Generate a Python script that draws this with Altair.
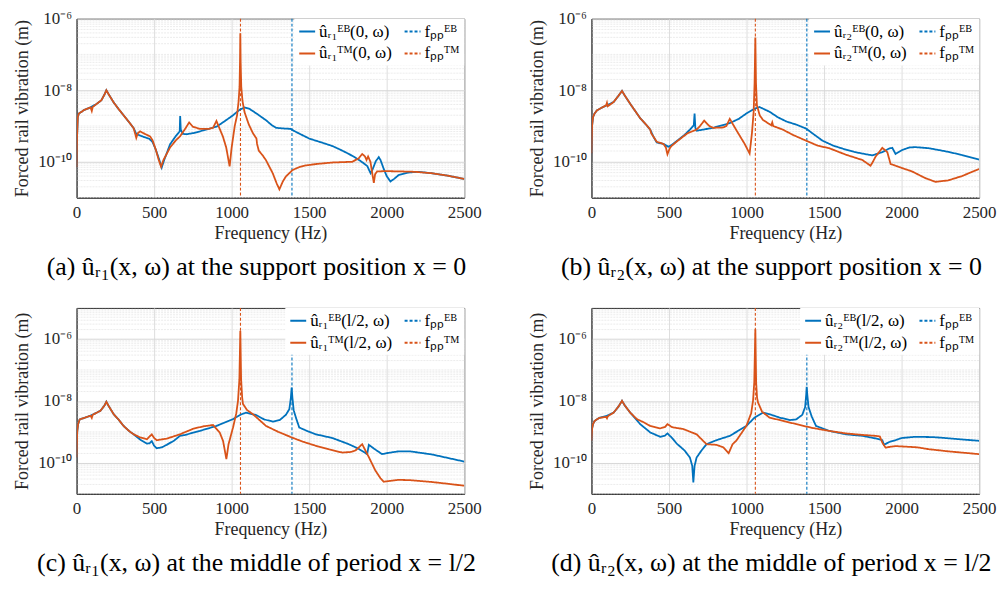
import altair as alt
import pandas as pd

BLUE = "#0072BD"
ORANGE = "#D95319"
FONT = "Liberation Serif"
INK = "#262626"

F_PP_EB = 1389   # Hz, dashed blue line
F_PP_TM = 1057   # Hz, dashed orange line

# Each series: (frequency Hz, log10 of amplitude in m)
A_EB = [(0,-10.15),(3,-9.3),(8,-8.75),(15,-8.65),(50,-8.55),(90,-8.48),(130,-8.38),(160,-8.28),(180,-8.12),(192,-8.0),
        (205,-8.1),(239,-8.34),(270,-8.52),(303,-8.70),(340,-8.9),(368,-9.06),(385,-9.22),(400,-9.25),(430,-9.3),(470,-9.36),
        (490,-9.45),(510,-9.65),(530,-9.9),(549,-10.16),(565,-9.95),(603,-9.51),(640,-9.28),(665,-9.15),(668,-8.72),(672,-9.1),
        (685,-9.22),(709,-9.23),(750,-9.2),(795,-9.15),(850,-9.08),(902,-9.02),(950,-8.88),(1009,-8.70),(1050,-8.55),(1083,-8.48),
        (1115,-8.52),(1170,-8.68),(1222,-8.84),(1260,-8.98),(1286,-9.05),(1340,-9.07),(1380,-9.08),(1395,-9.12),(1440,-9.22),(1500,-9.35),
        (1580,-9.46),(1650,-9.56),(1700,-9.66),(1756,-9.78),(1800,-9.89),(1842,-10.01),(1875,-10.12),(1896,-10.32),(1910,-10.2),(1930,-9.98),
        (1949,-9.87),(1960,-9.95),(1981,-10.2),(2000,-10.4),(2024,-10.55),(2050,-10.47),(2077,-10.37),(2141,-10.30),(2205,-10.28),(2291,-10.32),
        (2397,-10.39),(2500,-10.48)]
A_TM = [(0,-10.15),(3,-9.3),(8,-8.75),(15,-8.65),(50,-8.55),(90,-8.48),(98,-8.58),(104,-8.47),(130,-8.38),(160,-8.28),
        (180,-8.12),(192,-8.0),(205,-8.1),(239,-8.34),(270,-8.52),(303,-8.70),(340,-8.9),(368,-9.06),(385,-9.33),(395,-9.2),
        (410,-9.15),(440,-9.22),(474,-9.29),(490,-9.4),(510,-9.65),(530,-9.95),(545,-10.14),(560,-9.95),(603,-9.6),(640,-9.4),
        (667,-9.29),(700,-9.08),(726,-8.90),(750,-9.02),(795,-9.08),(850,-9.08),(880,-9.05),(902,-8.86),(925,-9.1),(944,-9.3),
        (965,-9.6),(987,-10.13),(1000,-9.6),(1020,-9.0),(1035,-8.7),(1045,-8.3),(1051,-7.9),(1054,-7.2),(1056,-6.41),(1058,-7.2),
        (1062,-7.9),(1070,-8.3),(1083,-8.61),(1110,-8.95),(1137,-9.2),(1160,-9.35),(1164,-9.5),(1175,-9.69),(1200,-9.82),(1222,-9.96),
        (1265,-10.32),(1290,-10.6),(1308,-10.77),(1330,-10.55),(1350,-10.41),(1393,-10.23),(1440,-10.14),(1479,-10.10),(1550,-10.06),(1650,-10.02),
        (1778,-10.0),(1820,-9.9),(1842,-9.78),(1860,-9.85),(1870,-9.95),(1880,-9.85),(1895,-10.0),(1906,-10.3),(1917,-10.59),(1925,-10.35),
        (1938,-10.27),(1991,-10.26),(2100,-10.27),(2184,-10.28),(2291,-10.32),(2397,-10.39),(2500,-10.48)]

B_EB = [(0,-9.77),(4,-9.0),(10,-8.75),(20,-8.65),(36,-8.56),(70,-8.48),(100,-8.42),(143,-8.33),(175,-8.15),(197,-8.02),
        (215,-8.15),(250,-8.38),(314,-8.78),(350,-8.95),(379,-9.10),(400,-9.3),(421,-9.46),(464,-9.50),(496,-9.58),(520,-9.52),
        (550,-9.42),(600,-9.25),(635,-9.10),(660,-8.98),(665,-8.65),(670,-9.05),(678,-9.13),(720,-9.10),(785,-9.05),(892,-8.92),
        (950,-8.8),(999,-8.65),(1050,-8.52),(1084,-8.47),(1148,-8.6),(1200,-8.75),(1255,-8.87),(1320,-8.96),(1384,-9.07),(1430,-9.22),
        (1490,-9.41),(1560,-9.55),(1640,-9.66),(1700,-9.73),(1747,-9.77),(1811,-9.82),(1876,-9.73),(1920,-9.63),(1940,-9.61),(1961,-9.78),
        (2004,-9.67),(2050,-9.6),(2089,-9.59),(2175,-9.62),(2300,-9.72),(2389,-9.81),(2500,-9.94)]
B_TM = [(0,-9.77),(4,-9.0),(10,-8.75),(20,-8.65),(36,-8.56),(70,-8.48),(95,-8.42),(100,-8.35),(105,-8.45),(143,-8.33),
        (175,-8.15),(197,-8.02),(215,-8.15),(250,-8.38),(314,-8.78),(350,-8.95),(379,-9.10),(385,-9.2),(421,-9.44),(464,-9.50),
        (480,-9.6),(490,-9.79),(505,-9.62),(518,-9.55),(560,-9.4),(620,-9.2),(678,-9.10),(700,-9.0),(727,-8.85),(760,-9.0),
        (785,-9.05),(850,-9.04),(870,-9.0),(892,-8.80),(935,-9.12),(988,-9.50),(1020,-9.77),(1035,-9.2),(1046,-8.6),(1052,-7.8),
        (1057,-6.53),(1061,-7.8),(1067,-8.42),(1085,-8.7),(1106,-8.83),(1160,-8.98),(1166,-8.9),(1172,-9.0),(1234,-9.10),(1300,-9.25),
        (1384,-9.41),(1460,-9.55),(1533,-9.62),(1640,-9.8),(1747,-9.95),(1800,-10.11),(1815,-10.0),(1833,-9.85),(1876,-9.61),(1895,-9.68),
        (1908,-9.73),(1929,-10.06),(2000,-10.17),(2068,-10.27),(2150,-10.45),(2218,-10.56),(2300,-10.52),(2389,-10.40),(2500,-10.20)]

C_EB = [(0,-9.83),(4,-9.0),(10,-8.75),(20,-8.6),(50,-8.55),(90,-8.48),(154,-8.32),(180,-8.15),(192,-8.03),(205,-8.15),
        (239,-8.43),(270,-8.6),(303,-8.81),(340,-8.98),(368,-9.08),(410,-9.25),(453,-9.38),(470,-9.37),(485,-9.3),(500,-9.45),
        (517,-9.53),(550,-9.5),(581,-9.42),(630,-9.28),(667,-9.13),(700,-9.1),(795,-8.97),(902,-8.81),(1009,-8.59),(1060,-8.44),
        (1094,-8.38),(1158,-8.46),(1210,-8.6),(1265,-8.67),(1310,-8.62),(1350,-8.45),(1372,-8.27),(1382,-7.9),(1387,-7.57),(1392,-7.9),
        (1400,-8.3),(1415,-8.55),(1436,-8.86),(1490,-8.98),(1543,-9.08),(1650,-9.2),(1756,-9.40),(1820,-9.55),(1874,-9.72),(1885,-9.42),
        (1920,-9.55),(1970,-9.72),(2010,-9.68),(2077,-9.63),(2150,-9.63),(2291,-9.73),(2400,-9.85),(2500,-9.96)]
C_TM = [(0,-9.83),(4,-9.0),(10,-8.75),(20,-8.6),(50,-8.55),(90,-8.48),(98,-8.55),(104,-8.45),(154,-8.32),(180,-8.15),
        (192,-8.03),(205,-8.15),(239,-8.43),(270,-8.6),(303,-8.81),(340,-8.98),(368,-9.08),(410,-9.18),(453,-9.24),(485,-9.08),
        (500,-9.2),(517,-9.27),(581,-9.22),(667,-9.08),(752,-8.90),(820,-8.82),(880,-8.78),(923,-9.02),(945,-9.3),(966,-9.88),
        (980,-9.4),(1009,-8.86),(1030,-8.4),(1041,-8.0),(1050,-7.3),(1056,-5.74),(1061,-7.3),(1068,-7.9),(1073,-8.1),(1100,-8.3),
        (1137,-8.43),(1222,-8.81),(1300,-9.0),(1387,-9.18),(1460,-9.32),(1543,-9.45),(1630,-9.57),(1714,-9.67),(1770,-9.65),(1799,-9.6),
        (1842,-9.40),(1885,-9.82),(1927,-10.25),(1960,-10.5),(1981,-10.61),(2077,-10.55),(2150,-10.56),(2291,-10.62),(2400,-10.68),(2500,-10.74)]

D_EB = [(0,-9.29),(4,-8.9),(10,-8.75),(20,-8.65),(50,-8.55),(100,-8.48),(143,-8.38),(175,-8.18),(197,-8.0),(215,-8.15),
        (250,-8.38),(314,-8.75),(379,-9.02),(443,-9.16),(475,-9.12),(490,-9.05),(520,-9.2),(550,-9.38),(600,-9.6),(635,-9.83),
        (650,-10.1),(657,-10.63),(665,-10.1),(678,-9.83),(710,-9.6),(742,-9.40),(800,-9.28),(892,-9.13),(999,-8.81),(1050,-8.55),
        (1106,-8.38),(1160,-8.45),(1213,-8.54),(1280,-8.62),(1320,-8.6),(1360,-8.45),(1378,-8.2),(1385,-7.8),(1388,-7.55),(1392,-7.8),
        (1400,-8.2),(1420,-8.5),(1448,-8.81),(1533,-8.97),(1640,-9.08),(1747,-9.13),(1840,-9.22),(1876,-9.27),(1886,-9.42),(1920,-9.33),
        (1961,-9.27),(2000,-9.2),(2089,-9.16),(2200,-9.17),(2282,-9.20),(2400,-9.25),(2500,-9.29)]
D_TM = [(0,-9.29),(4,-8.9),(10,-8.75),(20,-8.65),(50,-8.55),(95,-8.52),(100,-8.56),(105,-8.5),(143,-8.38),(175,-8.18),
        (197,-8.0),(215,-8.15),(250,-8.38),(293,-8.59),(340,-8.7),(379,-8.81),(443,-8.89),(475,-8.84),(490,-8.75),(520,-8.85),
        (592,-8.91),(678,-9.08),(742,-9.40),(806,-9.42),(850,-9.5),(885,-9.69),(910,-9.4),(935,-9.28),(999,-8.81),(1030,-8.4),
        (1042,-8.0),(1050,-7.4),(1057,-5.69),(1062,-7.4),(1068,-7.9),(1074,-8.05),(1100,-8.35),(1148,-8.54),(1230,-8.64),(1320,-8.75),
        (1420,-8.87),(1533,-8.97),(1640,-9.05),(1747,-9.1),(1833,-9.13),(1860,-9.15),(1876,-9.35),(1897,-9.51),(1930,-9.48),(1961,-9.46),
        (2100,-9.5),(2175,-9.56),(2300,-9.63),(2500,-9.72)]

X_TICKS = [0, 500, 1000, 1500, 2000, 2500]
Y_TICKS = [1e-10, 1e-8, 1e-6]

# legend labels: [EB response, TM response, EB pinned-pinned freq, TM pinned-pinned freq]
LABELS_A = ["ûᵣ₁ᴱᴮ(0, ω)", "ûᵣ₁ᵀᴹ(0, ω)", "fₚₚᴱᴮ", "fₚₚᵀᴹ"]
LABELS_B = ["ûᵣ₂ᴱᴮ(0, ω)", "ûᵣ₂ᵀᴹ(0, ω)", "fₚₚᴱᴮ", "fₚₚᵀᴹ"]
LABELS_C = ["ûᵣ₁ᴱᴮ(l/2, ω)", "ûᵣ₁ᵀᴹ(l/2, ω)", "fₚₚᴱᴮ", "fₚₚᵀᴹ"]
LABELS_D = ["ûᵣ₂ᴱᴮ(l/2, ω)", "ûᵣ₂ᵀᴹ(l/2, ω)", "fₚₚᴱᴮ", "fₚₚᵀᴹ"]

CAPTIONS = [
    "(a) ûᵣ₁(x, ω) at the support position x = 0",
    "(b) ûᵣ₂(x, ω) at the support position x = 0",
    "(c) ûᵣ₁(x, ω) at the middle of period x = l/2",
    "(d) ûᵣ₂(x, ω) at the middle of period x = l/2",
]

Y_LABEL_EXPR = ("round(log(datum.value)/LN10) == -6 ? '10⁻⁶' : "
                "round(log(datum.value)/LN10) == -8 ? '10⁻⁸' : "
                "round(log(datum.value)/LN10) == -10 ? '10⁻¹⁰' : ''")


def panel(eb, tm, labels, lo, hi, caption, height):
    rows = []
    for f, lg in eb:
        rows.append({"f": f, "v": 10.0 ** lg, "series": labels[0]})
    for f, lg in tm:
        rows.append({"f": f, "v": 10.0 ** lg, "series": labels[1]})
    df = pd.DataFrame(rows)
    rules = pd.DataFrame({"f": [F_PP_EB, F_PP_TM], "series": [labels[2], labels[3]]})
    minor_vals = []
    for n in range(lo, hi):
        for k in range(1, 10):
            if k == 1 and n % 2 == 0:
                continue
            minor_vals.append(k * 10.0 ** n)
    minor = pd.DataFrame({"v": minor_vals})

    xs = alt.Scale(domain=[0, 2500], nice=False, zero=False)
    ys = alt.Scale(type="log", domain=[10.0 ** lo, 10.0 ** hi], nice=False)
    cs = alt.Scale(domain=labels, range=[BLUE, ORANGE, BLUE, ORANGE])
    ds = alt.Scale(domain=labels, range=[[1, 0], [1, 0], [3, 2], [3, 2]])
    leg = alt.Legend(title=None, orient="top-right", columns=2, fillColor="white",
                     padding=4, offset=0, symbolType="stroke", symbolSize=256,
                     symbolStrokeWidth=2, labelFont=FONT, labelFontSize=17, labelLimit=0,
                     columnPadding=8, rowPadding=5, labelOffset=3, labelColor="black")

    xaxis = alt.Axis(values=X_TICKS, title="Frequency (Hz)", grid=True, gridColor="#dedede",
                     ticks=False, labelPadding=7, titlePadding=4, format="d", labelFlush=False)
    yaxis = alt.Axis(values=Y_TICKS, labelExpr=Y_LABEL_EXPR, title="Forced rail vibration (m)",
                     grid=True, gridColor="#d6d6d6", ticks=False, labelPadding=5, titlePadding=6)

    grid = alt.Chart(minor).mark_rule(color="#e4e4e4", strokeWidth=0.7, strokeDash=[2, 1]).encode(
        y=alt.Y("v:Q", scale=ys, axis=yaxis))
    vlines = alt.Chart(rules).mark_rule(strokeWidth=1.1).encode(
        x=alt.X("f:Q", scale=xs, axis=xaxis),
        color=alt.Color("series:N", scale=cs, legend=leg),
        strokeDash=alt.StrokeDash("series:N", scale=ds, legend=leg))
    lines = alt.Chart(df).mark_line(strokeWidth=1.8, clip=True).encode(
        x=alt.X("f:Q", scale=xs, axis=xaxis),
        y=alt.Y("v:Q", scale=ys, axis=yaxis),
        color=alt.Color("series:N", scale=cs, legend=leg),
        strokeDash=alt.StrokeDash("series:N", scale=ds, legend=leg),
        order=alt.Order("f:Q"))
    title = alt.TitleParams(text=caption, orient="bottom", anchor="middle", font=FONT, fontSize=26,
                            fontWeight="normal", offset=12, dx=-14, frame="group", color="black")
    return alt.layer(grid, vlines, lines).properties(width=390, height=height, title=title)


pa = panel(A_EB, A_TM, LABELS_A, -11, -6, CAPTIONS[0], 180)
pb = panel(B_EB, B_TM, LABELS_B, -11, -6, CAPTIONS[1], 180)
pc = panel(C_EB, C_TM, LABELS_C, -11, -5, CAPTIONS[2], 187)
pd_ = panel(D_EB, D_TM, LABELS_D, -11, -5, CAPTIONS[3], 187)

chart = alt.concat(pa, pb, pc, pd_, columns=2, spacing={"row": 111, "column": 128}, bounds="flush").resolve_scale(
    x="independent", y="independent", color="independent", strokeDash="independent"
).resolve_legend(color="independent", strokeDash="independent").properties(
    padding={"left": 5, "top": -1, "right": 0, "bottom": 0}, background="white"
).configure_axis(
    domainColor=INK, labelColor=INK, titleColor=INK, labelFont=FONT, titleFont=FONT,
    labelFontSize=17, titleFontSize=18, titleFontWeight="normal"
).configure_view(stroke=INK, strokeWidth=1)

chart.save("out.html", embed_options={"renderer": "svg", "actions": False})
